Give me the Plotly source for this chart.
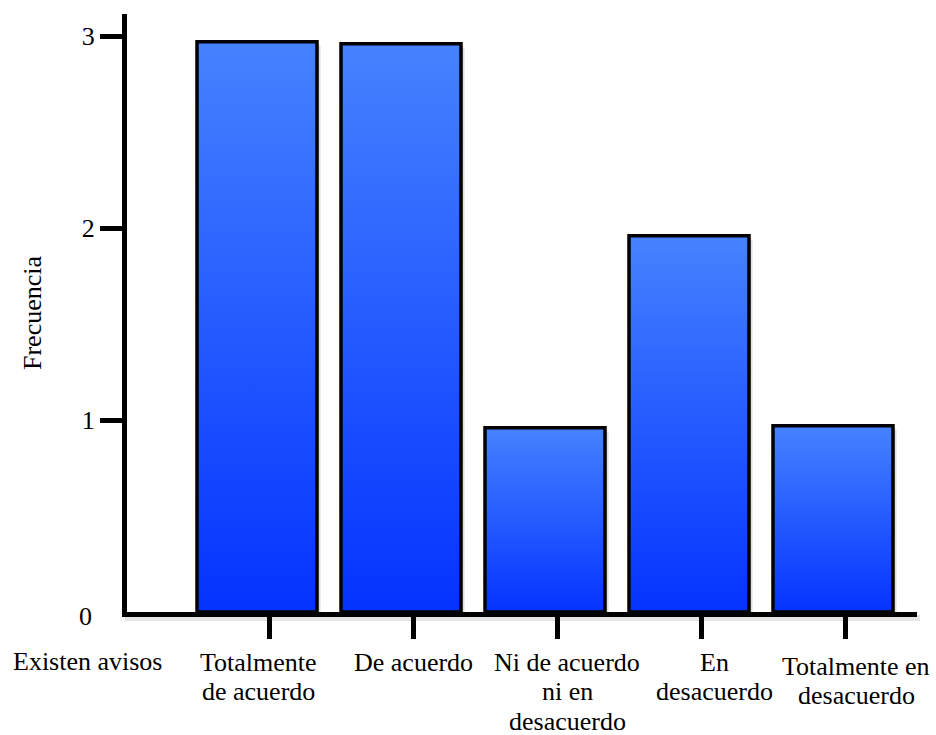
import plotly.graph_objects as go

# ---- data -------------------------------------------------------------
categories = [
    "Totalmente de acuerdo",
    "De acuerdo",
    "Ni de acuerdo ni en desacuerdo",
    "En desacuerdo",
    "Totalmente en desacuerdo",
]
label_lines = [
    ["Totalmente", "de acuerdo"],
    ["De acuerdo"],
    ["Ni de acuerdo", "ni en", "desacuerdo"],
    ["En", "desacuerdo"],
    ["Totalmente en", "desacuerdo"],
]
frecuencia = [2.97, 2.96, 0.96, 1.96, 0.97]
y_tick_vals = [1, 2, 3]
y_tick_text = ["1", "2", "3"]
group_label = "Existen avisos"
y_title = "Frecuencia"

# ---- layout constants -------------------------------------------------
W, H = 936, 735
ML, MR, MT, MB = 127, 19, 14, 123
PX_PER_CAT = 144.0                      # pixels between category centres
PX_PER_UNIT = 192.0                     # pixels per frequency unit
FIRST_CENTRE_PX = 257.0                 # x pixel of the first bar centre
plot_w = W - ML - MR
plot_h = H - MT - MB
x_lo = -(FIRST_CENTRE_PX - ML) / PX_PER_CAT
x_hi = x_lo + plot_w / PX_PER_CAT
y_hi = plot_h / PX_PER_UNIT

BAR_HALF = 60 / PX_PER_CAT
TICK_SHIFT = 12 / PX_PER_CAT            # category tick marks sit right of centre
LABEL_XSHIFT = [1, 12, 22, 25, 23]      # horizontal nudges of category labels (px)
LABEL_YSHIFT = [0, 0, 0, 0, 4]          # vertical nudges of category labels (px)
FIRST_LINE_PX = 50                      # first label line centre below the axis (px)
LINE_GAP_PX = 29.5

FONT = '"Liberation Serif", "Times New Roman", Times, serif'
FS = 26
GRAD = [[0, "#0433ff"], [1, "#4682ff"]]

fig = go.Figure()

# soft drop shadows behind the bars
for dx, dy, a in [(4, 4, 0.07), (2.5, 2.5, 0.10)]:
    for i, v in enumerate(frecuencia):
        ox, oy = dx / PX_PER_CAT, dy / PX_PER_UNIT
        fig.add_trace(go.Scatter(
            x=[i - BAR_HALF + ox, i - BAR_HALF + ox, i + BAR_HALF + ox, i + BAR_HALF + ox, i - BAR_HALF + ox],
            y=[0, v - oy, v - oy, 0, 0],
            fill="toself", mode="lines", line=dict(width=0),
            fillcolor=f"rgba(0,0,0,{a})", hoverinfo="skip", showlegend=False,
        ))

# gradient-filled bars with black outline
for i, (cat, v) in enumerate(zip(categories, frecuencia)):
    fig.add_trace(go.Scatter(
        x=[i - BAR_HALF, i - BAR_HALF, i + BAR_HALF, i + BAR_HALF, i - BAR_HALF],
        y=[0, v, v, 0, 0],
        fill="toself", mode="lines",
        fillgradient=dict(type="vertical", colorscale=GRAD),
        line=dict(color="black", width=3.5),
        name=cat, hovertemplate=f"{cat}: %{{y}}<extra></extra>", showlegend=False,
    ))

annotations = []
# category labels, one annotation per line
for i, lines in enumerate(label_lines):
    for k, line in enumerate(lines):
        annotations.append(dict(
            x=i, y=0, xref="x", yref="y", text=line, showarrow=False,
            xanchor="center", yanchor="middle",
            xshift=LABEL_XSHIFT[i],
            yshift=-(FIRST_LINE_PX + k * LINE_GAP_PX + LABEL_YSHIFT[i]),
            font=dict(family=FONT, size=FS, color="black"),
        ))
# group label at left of the category row
annotations.append(dict(
    x=(88 - ML) / plot_w, y=0, xref="paper", yref="y", text=group_label,
    showarrow=False, xanchor="center", yanchor="middle", yshift=-FIRST_LINE_PX + 1,
    font=dict(family=FONT, size=FS, color="black"),
))
# zero label on the value axis
annotations.append(dict(
    x=(94 - ML) / plot_w, y=0, xref="paper", yref="y", text="0",
    showarrow=False, xanchor="right", yanchor="middle", yshift=-4,
    font=dict(family=FONT, size=FS, color="black"),
))
# value axis title
annotations.append(dict(
    x=(32 - ML) / plot_w, y=0.5, xref="paper", yref="paper", text=y_title,
    showarrow=False, textangle=-90, xanchor="center", yanchor="middle",
    font=dict(family=FONT, size=FS, color="black"),
))

shapes = [
    # shadow under the category axis line
    dict(type="rect", xref="paper", yref="paper",
         x0=-2 / plot_w, x1=(plot_w + 3) / plot_w,
         y0=-9 / plot_h, y1=-3 / plot_h,
         fillcolor="rgba(0,0,0,0.10)", line=dict(width=0), layer="below"),
]

fig.update_layout(
    width=W, height=H,
    margin=dict(l=ML, r=MR, t=MT, b=MB, pad=0),
    paper_bgcolor="white", plot_bgcolor="white",
    font=dict(family=FONT, size=FS, color="black"),
    showlegend=False,
    annotations=annotations,
    shapes=shapes,
    xaxis=dict(
        range=[x_lo, x_hi], showgrid=False, zeroline=False,
        showline=True, linecolor="black", linewidth=5,
        ticks="outside", ticklen=22, tickwidth=4.5, tickcolor="black",
        tickvals=[i + TICK_SHIFT for i in range(len(categories))],
        showticklabels=False, fixedrange=True,
    ),
    yaxis=dict(
        range=[0, y_hi], showgrid=False, zeroline=False,
        showline=True, linecolor="black", linewidth=5,
        ticks="outside", ticklen=22, tickwidth=5, tickcolor="black",
        tickvals=y_tick_vals, ticktext=y_tick_text,
        tickfont=dict(family=FONT, size=FS, color="black"),
        fixedrange=True,
    ),
)

fig.write_html("out.html")
